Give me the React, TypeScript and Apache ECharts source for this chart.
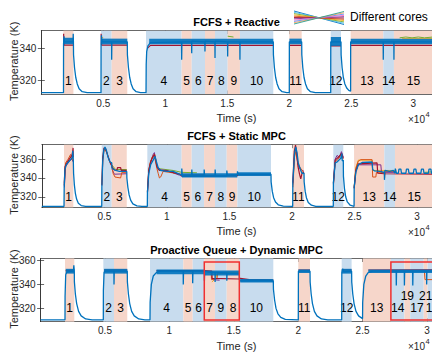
import React, { useEffect, useRef } from 'react';
import * as echarts from 'echarts';

const FONT = 'Liberation Sans, Arial, Helvetica, sans-serif';
const INK = '#262626';
const BLUE = '#0072BD', ORANGE = '#D95319', YELLOW = '#EDB120', PURPLE = '#7E2F8E', GREEN = '#77AC30', RED = '#A2142F';
const SHADE_B = '#c8dcee', SHADE_P = '#f6d6ca';

// ---------- shared tick labels ----------
const xTicks = [5000, 10000, 15000, 20000, 25000, 30000];
const yTicks1 = [320, 340];
const yTicks2 = [320, 340, 360];
const yTicks3 = [320, 340, 360];
const titles = ['FCFS + Reactive', 'FCFS + Static MPC', 'Proactive Queue + Dynamic MPC'];

// ---------- Panel 1 : FCFS + Reactive ----------
const p1Regions: [number, number, string, string][] = [
  [1780, 2590, 'p', '1'], [4815, 5675, 'b', '2'], [5675, 6935, 'p', '3'], [8445, 11320, 'b', '4'],
  [11320, 12130, 'p', '5'], [12130, 13200, 'b', '6'], [13200, 14010, 'p', '7'], [14010, 15030, 'b', '8'],
  [15030, 16020, 'p', '9'], [16020, 18710, 'b', '10'], [20000, 21000, 'p', '11'], [23340, 24170, 'b', '12'],
  [24950, 27580, 'p', '13'], [27580, 28440, 'b', '14'], [28440, 31600, 'p', '15'],
];
const p1Blue = [
  [0, 312.6], [1790, 312.6], [1795, 343], [1830, 347.5], [1870, 344], [2560, 344], [2575, 349], [2590, 344], [2600, 336], [2680, 328], [2780, 322], [2900, 318], [3050, 315], [3300, 313.2], [3700, 312.6],
  [4815, 312.6], [4820, 343], [4850, 348], [4900, 344], [5670, 344], [5675, 333], [5690, 344], [6935, 344], [6945, 336], [7030, 328], [7130, 322], [7250, 318], [7400, 315], [7650, 313.2], [8000, 312.6], [8445, 312.6],
  [8460, 330], [8500, 338], [8600, 341.5], [8800, 343.5], [11310, 344], [11320, 333], [11340, 344], [12120, 344], [12130, 337], [12140, 344.5], [13190, 344], [13200, 338], [13210, 344.5], [14000, 344], [14010, 334], [14020, 344.5], [15020, 344], [15030, 335], [15040, 344], [16010, 344], [16020, 333], [16030, 344], [18710, 344], [18720, 336], [18800, 328], [18900, 322], [19020, 318], [19170, 315], [19420, 313.2], [19800, 312.6], [20000, 312.6],
  [20005, 344], [21000, 344], [21010, 336], [21090, 328], [21190, 322], [21310, 318], [21460, 315], [21710, 313.2], [22100, 312.6], [23340, 312.6],
  [23345, 344], [24170, 344], [24180, 336], [24260, 328], [24360, 322], [24480, 318], [24630, 315.5], [24800, 314], [24945, 313.5],
  [24950, 344], [27570, 344], [27580, 333], [27590, 344], [28430, 344], [28440, 333], [28450, 344], [31600, 344],
];
const p1Band = [
  [1800, 2590, 342.5, 346.5], [4830, 6935, 342.5, 346], [8700, 18710, 342.5, 346], [20010, 21000, 342.5, 346],
  [23350, 24170, 341.5, 347], [24960, 31600, 342.5, 346],
];
const p1Red = [
  [[1800, 349], [1830, 342], [2590, 342]], [[4825, 349], [4860, 342], [6935, 342]], [[8550, 340], [8800, 341.8], [18710, 341.8]],
  [[20010, 341.8], [21000, 341.8]], [[23350, 341.5], [24170, 341.5]], [[24960, 341.8], [31600, 341.8]],
];
const p1Green = [[[15030, 347.5], [15500, 347]], [[28900, 346.5], [29400, 347], [29900, 346.5], [30400, 347], [30900, 346.5], [31600, 347]]];
const p1Yellow = [[[4830, 346.8], [5000, 346.5]], [[29100, 346], [31600, 346]]];
const p1Orange: number[][][] = [];
const p1Purple: number[][][] = [];

// ---------- Panel 2 : FCFS + Static MPC ----------
const p2Regions: [number, number, string, string][] = [
  [1775, 2520, 'p', '1'], [4790, 5590, 'b', '2'], [5590, 6790, 'p', '3'], [8435, 11180, 'b', '4'],
  [11180, 11980, 'p', '5'], [11980, 12970, 'b', '6'], [12970, 13845, 'p', '7'], [13845, 14780, 'b', '8'],
  [14780, 15630, 'p', '9'], [15630, 18320, 'b', '10'], [20055, 20960, 'p', '11'], [23300, 24100, 'b', '12'],
  [24960, 27380, 'p', '13'], [27380, 28230, 'b', '14'], [28230, 31300, 'p', '15'],
];
const p2Blue = [
  [0, 309.7], [1775, 309.7], [1790, 330], [1850, 349], [1950, 354], [2100, 356.5], [2300, 359.5], [2440, 362], [2480, 369], [2510, 362], [2520, 358], [2540, 345], [2600, 333], [2680, 324], [2780, 317.5], [2920, 313], [3150, 310.6], [3500, 309.7],
  [4790, 309.7], [4800, 330], [4870, 358], [4950, 369], [5050, 373], [5150, 370], [5300, 362], [5450, 357], [5590, 356], [5600, 351], [5700, 349.5], [5900, 348], [6200, 347], [6790, 347], [6800, 340], [6880, 330], [6980, 322], [7100, 316.5], [7280, 312.5], [7600, 310.3], [8000, 309.7], [8435, 309.7],
  [8445, 325], [8550, 345], [8700, 354], [8900, 359], [9050, 363], [9150, 358], [9300, 351], [9500, 348], [10000, 347], [10500, 347], [11000, 344], [11180, 343], [11190, 350], [11230, 342], [11980, 342], [11990, 349], [12020, 342], [12970, 342], [12980, 349], [13010, 342], [13845, 342], [13855, 349], [13890, 342], [14780, 342], [14790, 348], [14830, 343], [15630, 343.5], [15640, 347], [15680, 344], [18320, 344], [18330, 336], [18420, 326], [18530, 319], [18680, 314.5], [18900, 311.5], [19300, 310], [20055, 309.7],
  [20065, 335], [20200, 366], [20300, 373], [20400, 367], [20500, 356], [20600, 352], [20700, 348], [20800, 345], [20960, 345], [20970, 336], [21050, 326], [21150, 319], [21300, 314], [21550, 311], [21900, 309.8], [23300, 309.7],
  [23310, 335], [23450, 356], [23600, 357], [23750, 359], [23900, 361], [23980, 366], [24020, 358], [24100, 359], [24110, 342], [24190, 329], [24290, 320], [24420, 314.5], [24650, 311], [24960, 309.8],
  [24970, 330], [25100, 346], [25300, 354], [25600, 356.5], [26400, 357], [26450, 349], [26600, 347.5], [27000, 347], [27380, 346], [27390, 338], [27420, 348], [27800, 347], [28100, 348], [28230, 345], [28260, 350],
  [28350, 345], [28500, 345], [28550, 349.5], [28700, 349.5], [28750, 345], [29100, 345], [29150, 349.5], [29300, 349.5], [29350, 345], [29700, 345], [29750, 349.5], [29900, 349.5], [29950, 345], [30300, 345], [30350, 349.5], [30500, 349.5], [30550, 345], [30900, 345], [30950, 349.5], [31100, 349.5], [31150, 345], [31300, 345],
];
const p2Band = [[11200, 15630, 340.5, 345], [15680, 18320, 342, 346]];
const p2Red = [
  [[1790, 332], [1850, 352], [2000, 356], [2200, 360], [2400, 364], [2470, 368], [2500, 372], [2520, 362]],
  [[4800, 332], [4870, 362], [4970, 372], [5100, 371], [5300, 363], [5500, 355], [5590, 353], [5650, 351], [5800, 348.5], [6000, 348], [6050, 351], [6300, 351], [6350, 348], [6790, 348]],
  [[8445, 325], [8550, 348], [8700, 357], [8850, 362], [9000, 365], [9100, 360], [9200, 352], [9400, 348], [10000, 347.5], [11000, 344], [11180, 343], [11200, 342], [15630, 342.5], [15700, 343.5], [18320, 343.5]],
  [[20065, 335], [20180, 368], [20280, 375], [20380, 366], [20480, 352], [20600, 344], [20700, 339], [20800, 345], [20960, 346]],
  [[23310, 334], [23450, 359], [23700, 362], [23950, 366], [24100, 361]],
  [[24970, 329], [25100, 348], [25300, 355], [26800, 356], [26850, 345], [27380, 344.5], [31300, 344]],
];
const p2Orange = [
  [[1800, 335], [1900, 356], [2100, 360], [2300, 365], [2400, 362], [2520, 358]],
  [[4800, 333], [4880, 360], [5000, 371], [5200, 367], [5400, 358], [5590, 354], [5700, 345], [5850, 341], [6300, 340], [6400, 346], [6790, 346]],
  [[8445, 326], [8550, 349], [8700, 358], [8900, 363], [9050, 360], [9200, 350], [9300, 345], [9400, 340], [9500, 341], [9700, 347], [11180, 344], [11250, 343], [12970, 343]],
  [[20070, 330], [20200, 362], [20300, 368], [20500, 354], [20960, 345]],
  [[23310, 333], [23450, 357], [23700, 360], [23900, 365], [24100, 360]],
  [[24970, 330], [25100, 350], [25300, 358], [25500, 359.5], [26400, 359.5], [26450, 341], [26700, 341], [26750, 346], [27380, 346], [27400, 340], [27450, 347], [28230, 347]],
];
const p2Yellow = [
  [[8600, 352], [8800, 362], [9000, 366], [9100, 362]],
  [[24970, 331], [25100, 351], [25300, 359], [26400, 359], [26450, 348], [28230, 348]],
];
const p2Purple = [
  [[1800, 330], [1900, 352], [2200, 358], [2400, 360], [2520, 357]],
  [[5590, 350], [5800, 344], [6790, 344.5]],
  [[8445, 324], [8550, 347], [8700, 356], [8900, 365], [9000, 367], [9100, 358], [9300, 349], [10000, 348], [11000, 343], [11180, 342], [11300, 343], [13000, 343.5]],
  [[20065, 333], [20200, 366], [20300, 372], [20450, 356], [20600, 350], [20960, 347]],
  [[23310, 335], [23450, 360], [23600, 364], [23800, 362], [23950, 368], [24100, 362]],
  [[24970, 329], [25100, 347], [25300, 354], [27100, 354], [27150, 346], [28230, 346]],
];
const p2Green = [
  [[5590, 354], [5900, 349], [6790, 349]],
  [[9300, 350], [10500, 348], [11180, 346], [12400, 345.5]],
  [[30600, 346], [31300, 346.5]],
];

// ---------- Panel 3 : Proactive Queue + Dynamic MPC ----------
const p3Regions: [number, number, string, string][] = [
  [1894, 2617, 'p', '1'], [4870, 5700, 'b', '2'], [5700, 6730, 'p', '3'], [8495, 11080, 'b', '4'],
  [11080, 11810, 'p', '5'], [11810, 12710, 'b', '6'], [12710, 13540, 'p', '7'], [13540, 14450, 'b', '9'],
  [14450, 15430, 'p', '8'], [15430, 18070, 'b', '10'], [20010, 20920, 'p', '11'], [23380, 24150, 'b', '12'],
  [25010, 27200, 'p', '13'], [27200, 28250, 'b', '14'], [28250, 28700, 'p', '19'], [28700, 29750, 'b', '17'],
  [29750, 30050, 'p', '21'], [30050, 30800, 'b', '18'],
];
const p3UpperLabels = ['19', '21'];
const p3Blue = [
  [0, 310.5], [1894, 310.5], [1900, 330], [1950, 348], [2050, 350.5], [2550, 351], [2580, 356], [2617, 351], [2625, 342], [2700, 332], [2800, 324], [2950, 317.5], [3150, 313.8], [3500, 311.2], [4000, 310.5], [4870, 310.5],
  [4875, 335], [4930, 350], [5000, 351], [5690, 351], [5700, 340], [5720, 351], [6730, 351], [6740, 342], [6820, 332], [6920, 324], [7070, 317.5], [7270, 313.8], [7620, 311.2], [8100, 310.5], [8495, 310.5],
  [8505, 325], [8600, 340], [8750, 347], [9000, 350], [9300, 351], [11070, 351], [11080, 340], [11100, 351], [11800, 351], [11810, 341], [11830, 351], [12710, 351], [12720, 343], [12740, 351], [13100, 350], [13540, 350], [13550, 342], [13570, 350], [14450, 349.5], [14460, 343], [14480, 349], [15430, 349], [15440, 344], [15500, 343], [18070, 343], [18080, 336], [18170, 327], [18280, 320], [18430, 315.5], [18650, 312.5], [19000, 310.8], [20010, 310.5],
  [20020, 351], [20920, 351], [20930, 342], [21010, 332], [21110, 324], [21260, 317.5], [21460, 313.8], [21810, 311.2], [22300, 310.5], [23380, 310.5],
  [23390, 350], [23450, 353], [23550, 350.5], [24150, 351], [24160, 342], [24240, 332], [24340, 324], [24490, 317.5], [24690, 313.8], [25000, 311.5],
  [25010, 325], [25100, 340], [25250, 347], [25450, 350], [25800, 351], [27610, 351], [27620, 339], [27640, 351], [28240, 351], [28250, 339], [28270, 351], [28890, 351], [28900, 339], [28920, 351], [29970, 351], [29980, 340], [30000, 351], [30800, 351],
];
const p3Band = [
  [1950, 2617, 349, 353], [4930, 6730, 349, 353], [9000, 12710, 348.5, 352.5], [12710, 15430, 347.5, 351.5],
  [15500, 18070, 341.5, 344.5], [20020, 20920, 349.5, 352.5], [23390, 24150, 349, 353], [25450, 30800, 349.5, 352.5],
];
const p3Red = [
  [[1950, 351.5], [2617, 352]], [[4930, 352], [6730, 352]],
  [[9000, 351.5], [12710, 351.5], [13300, 351], [13320, 345], [15430, 344.5], [15500, 345], [16200, 344], [18070, 343.5]],
  [[20020, 352], [20920, 352]], [[23390, 352], [24150, 352]], [[25450, 352], [30800, 352.2]],
];
const p3Orange = [[[12710, 351], [13250, 350.5], [13270, 344], [13700, 345], [13750, 349.5], [15430, 349]], [[29800, 351], [29850, 344], [30800, 344]]];
const p3Yellow = [[[13300, 342], [13600, 345], [13700, 349], [15430, 349.5]]];
const p3Purple = [[[13350, 344], [13900, 343.5]]];
const p3Green = [[[14450, 350], [15430, 350]]];
const p3Boxes = [[12710, 15430, 310.4, 358.7], [27200, 31000, 310.4, 358.7]];

// ---------- layout ----------
const panels = [
  { left: 41.3, top: 30.7, height: 63.3, xMax: 31590, yMin: 311.8, yMax: 350.9, yTicks: yTicks1, regions: p1Regions, upper: [] as string[], blue: p1Blue, band: p1Band, red: p1Red, orange: p1Orange, yellow: p1Yellow, purple: p1Purple, green: p1Green, boxes: [] as number[][] },
  { left: 41.8, top: 144.7, height: 62.6, xMax: 31270, yMin: 308.8, yMax: 375.4, yTicks: yTicks2, regions: p2Regions, upper: [] as string[], blue: p2Blue, band: p2Band, red: p2Red, orange: p2Orange, yellow: p2Yellow, purple: p2Purple, green: p2Green, boxes: [] as number[][] },
  { left: 40.6, top: 258.5, height: 63.1, xMax: 30470, yMin: 309, yMax: 361.6, yTicks: yTicks3, regions: p3Regions, upper: p3UpperLabels, blue: p3Blue, band: p3Band, red: p3Red, orange: p3Orange, yellow: p3Yellow, purple: p3Purple, green: p3Green, boxes: p3Boxes },
];

const joinSegs = (segs: number[][][]) => {
  const out: (number | null)[][] = [];
  segs.forEach((s, i) => { if (i) out.push([s[0][0], null]); s.forEach(p => out.push(p)); });
  return out;
};

const clipTo = (r: any, cs: any) => echarts.graphic.clipRectByRect(r, { x: cs.x, y: cs.y, width: cs.width, height: cs.height });

function buildOption() {
  const grid: any[] = [], xAxis: any[] = [], yAxis: any[] = [], series: any[] = [];
  const tickStyle = { inside: true, length: 3.5, lineStyle: { color: INK, width: 0.7 } };
  const lineAx = { show: true, lineStyle: { color: INK, width: 0.7 } };
  panels.forEach((P, i) => {
    grid.push({ left: P.left, right: -1, top: P.top, height: P.height, outerBoundsMode: 'none', containLabel: false });
    xAxis.push({
      type: 'value', gridIndex: i, min: 0, max: P.xMax, position: 'bottom', axisLine: lineAx,
      axisTick: { ...tickStyle, customValues: xTicks }, splitLine: { show: false },
      axisLabel: { customValues: xTicks, formatter: (v: number) => String(v / 10000), fontSize: 10, color: INK, fontFamily: FONT, margin: 4 },
    });
    xAxis.push({
      type: 'value', gridIndex: i, min: 0, max: P.xMax, position: 'top', axisLine: lineAx,
      axisTick: { ...tickStyle, customValues: xTicks }, splitLine: { show: false }, axisLabel: { show: false },
    });
    yAxis.push({
      type: 'value', gridIndex: i, min: P.yMin, max: P.yMax, position: 'left', axisLine: lineAx,
      axisTick: { ...tickStyle, customValues: P.yTicks }, splitLine: { show: false },
      axisLabel: { customValues: P.yTicks, fontSize: 10, color: INK, fontFamily: FONT, margin: 5 },
    });
    yAxis.push({
      type: 'value', gridIndex: i, min: P.yMin, max: P.yMax, position: 'right', axisLine: lineAx,
      axisTick: { ...tickStyle, customValues: P.yTicks }, splitLine: { show: false }, axisLabel: { show: false },
    });
    const xi = 2 * i, yi = 2 * i;
    // shaded regions
    series.push({
      type: 'custom', xAxisIndex: xi, yAxisIndex: yi, silent: true, z: 1,
      data: P.regions.map(r => [r[0], r[1], r[2] === 'b' ? 0 : 1]),
      renderItem: (params: any, api: any) => {
        const a = api.coord([api.value(0), P.yMax]);
        const b = api.coord([api.value(1), P.yMin]);
        const shape = clipTo({ x: a[0], y: a[1], width: b[0] - a[0], height: b[1] - a[1] }, params.coordSys);
        return shape ? { type: 'rect', shape, style: { fill: api.value(2) === 0 ? SHADE_B : SHADE_P } } : null;
      },
    });
    // region labels
    series.push({
      type: 'custom', xAxisIndex: xi, yAxisIndex: yi, silent: true, z: 2,
      data: P.regions.map(r => [(r[0] + r[1]) / 2, P.upper.includes(r[3]) ? 330 : 320]),
      renderItem: (params: any, api: any) => {
        const p = api.coord([api.value(0), api.value(1)]);
        const txt = P.regions[params.dataIndex][3];
        return { type: 'text', x: p[0], y: p[1], style: { text: txt, fontSize: 12, fontFamily: FONT, fill: '#000', align: 'center', verticalAlign: 'middle', textAlign: 'center', textVerticalAlign: 'middle' } };
      },
    });
    const coreLine = (data: any[], color: string, z: number, w = 1) => ({
      type: 'line', xAxisIndex: xi, yAxisIndex: yi, data, showSymbol: false, symbol: 'none', silent: true, z,
      connectNulls: false, animation: false, lineStyle: { color, width: w },
    });
    series.push(coreLine(joinSegs(P.green), GREEN, 3));
    series.push(coreLine(joinSegs(P.yellow), YELLOW, 3));
    series.push(coreLine(joinSegs(P.purple), PURPLE, 3));
    series.push(coreLine(joinSegs(P.orange), ORANGE, 3));
    series.push(coreLine(joinSegs(P.red), RED, 3, 1.2));
    // blue noise band
    series.push({
      type: 'custom', xAxisIndex: xi, yAxisIndex: yi, silent: true, z: 4,
      data: P.band,
      renderItem: (params: any, api: any) => {
        const a = api.coord([api.value(0), api.value(3)]);
        const b = api.coord([api.value(1), api.value(2)]);
        const shape = clipTo({ x: a[0], y: a[1], width: b[0] - a[0], height: b[1] - a[1] }, params.coordSys);
        return shape ? { type: 'rect', shape, style: { fill: BLUE, opacity: 0.9 } } : null;
      },
    });
    series.push(coreLine(P.blue, BLUE, 5, 1.3));
    if (P.boxes.length) {
      series.push({
        type: 'custom', xAxisIndex: xi, yAxisIndex: yi, silent: true, z: 6,
        data: P.boxes,
        renderItem: (params: any, api: any) => {
          const a = api.coord([api.value(0), api.value(3)]);
          const b = api.coord([api.value(1), api.value(2)]);
          return { type: 'rect', shape: { x: a[0], y: a[1], width: b[0] - a[0], height: b[1] - a[1] }, style: { fill: 'none', stroke: '#f03030', lineWidth: 1.5 } };
        },
      });
    }
  });

  const graphic: any[] = [];
  const txt = (text: string, x: number, y: number, size: number, extra: any = {}) => ({
    type: 'text', x, y, rotation: extra.rotation || 0, silent: true,
    style: { text, fontSize: size, fontFamily: FONT, fontWeight: extra.bold ? 'bold' : 'normal', fill: extra.fill || '#000', align: extra.align || 'center', verticalAlign: 'middle', textAlign: extra.align || 'center', textVerticalAlign: 'middle' },
  });
  panels.forEach((P, i) => {
    const bottom = P.top + P.height;
    graphic.push(txt(titles[i], 236.5, P.top - 8.7, 11, { bold: true }));
    graphic.push(txt('Temperature (K)', 14, P.top + P.height / 2 - 1, 11, { rotation: Math.PI / 2, fill: INK }));
    graphic.push(txt('Time (s)', 236.5, bottom + 24, 11, { fill: INK }));
    graphic.push(txt('×10', 425, bottom + 25, 10, { align: 'right', fill: INK }));
    graphic.push(txt('4', 425.5, bottom + 20, 7.5, { align: 'left', fill: INK }));
  });
  // legend icon: fan of coloured lines
  const fanColors = ['#0072BD', '#4DBEEE', '#77AC30', '#EDB120', '#D95319', '#A2142F', '#7E2F8E', '#FF6EC7', '#5B8FF9', '#F4A261', '#2A9D8F'];
  fanColors.forEach((c, k) => {
    const y1 = 11 + k * 1.3;
    graphic.push({ type: 'line', silent: true, shape: { x1: 294, y1, x2: 344, y2: 35.5 - y1 }, style: { stroke: c, lineWidth: 0.9 } });
  });
  graphic.push(txt('Different cores', 350, 17, 12, { align: 'left' }));

  return { animation: false, backgroundColor: '#fff', grid, xAxis, yAxis, series, graphic };
}

export default function App() {
  const ref = useRef<HTMLDivElement>(null);
  useEffect(() => {
    const chart = echarts.init(ref.current as HTMLDivElement, null, { renderer: 'svg' });
    chart.setOption(buildOption() as any);
    return () => chart.dispose();
  }, []);
  return <div ref={ref} style={{ position: 'fixed', left: 0, top: 0, width: 432, height: 352, background: '#fff' }} />;
}
